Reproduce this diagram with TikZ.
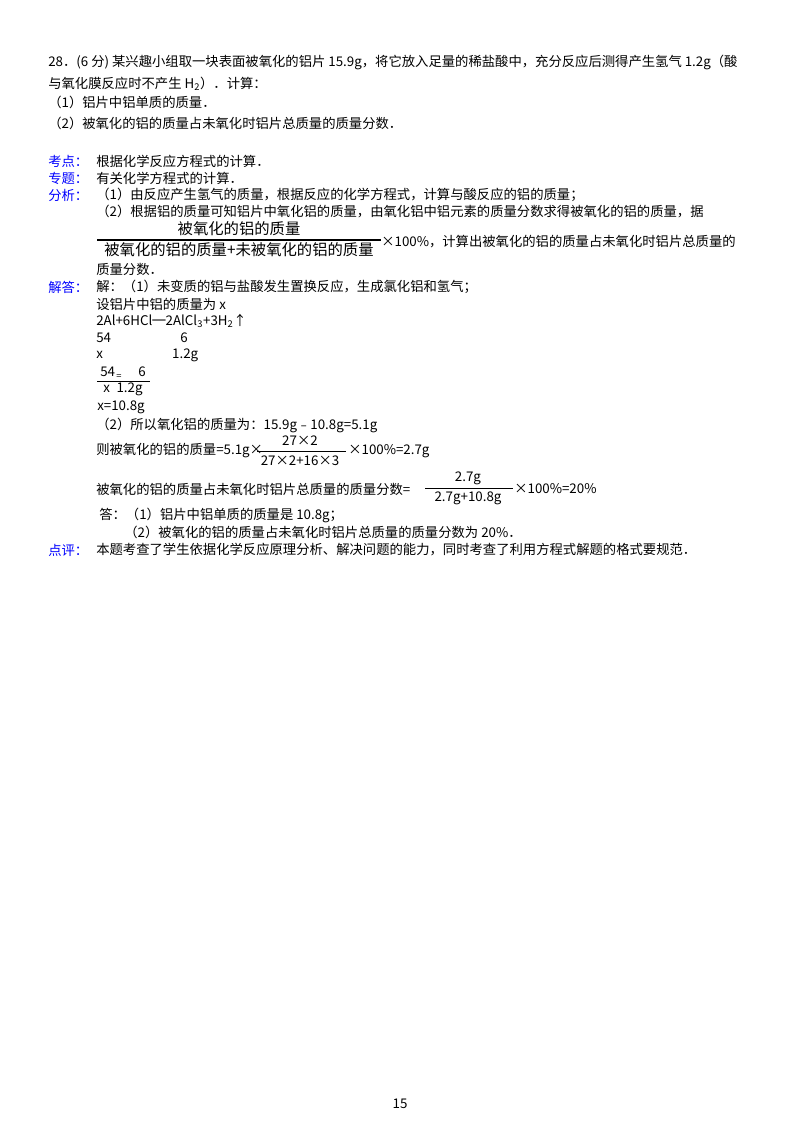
\documentclass[tikz,border=0pt]{standalone}
\usepackage{fontspec}
\setmainfont{Liberation Serif}
\newfontfamily\cjk{Noto Sans CJK SC}
\begin{document}
\begin{tikzpicture}[x=0.75pt,y=-0.75pt,
  t/.style={anchor=west,inner sep=0pt,font=\cjk\fontsize{10}{12}\selectfont},
  lab/.style={t,text=blue},
  fr/.style={inner sep=0pt,font=\cjk\fontsize{10}{12}\selectfont}]
\useasboundingbox (0,0) rectangle (800,1132);
\node[t] (l1) at (48,62) {28．(6 分) 某兴趣小组取一块表面被氧化的铝片 15.9g，将它放入足量的稀盐酸中，充分反应后测得产生氢气 1.2g（酸};
\node[t] (l2) at (48,84) {与氧化膜反应时不产生 H\textsubscript{2}）．计算：};
\node[t] (l3) at (48,102) {（1）铝片中铝单质的质量．};
\node[t] (l4) at (48,123) {（2）被氧化的铝的质量占未氧化时铝片总质量的质量分数．};
\node[lab] (k1) at (48,161) {考点：};
\node[t] (k1t) at (96,161) {根据化学反应方程式的计算．};
\node[lab] (k2) at (48,178) {专题：};
\node[t] (k2t) at (96,178) {有关化学方程式的计算．};
\node[lab] (k3) at (48,195) {分析：};
\node[t] (a1) at (96,195) {（1）由反应产生氢气的质量，根据反应的化学方程式，计算与酸反应的铝的质量；};
\node[t] (a2) at (96,212) {（2）根据铝的质量可知铝片中氧化铝的质量，由氧化铝中铝元素的质量分数求得被氧化的铝的质量，据};
\node[fr] (fn1) at (239,229) {\fontsize{11.5}{13}\selectfont 被氧化的铝的质量};
\node[fr] (fd1) at (239,250) {\fontsize{11.5}{13}\selectfont 被氧化的铝的质量+未被氧化的铝的质量};
\draw[line width=0.8pt] (97,240) -- (381,240);
\node[t] (a3) at (381,242) {×100\%，计算出被氧化的铝的质量占未氧化时铝片总质量的};
\node[t] (a4) at (96,269) {质量分数．};
\node[lab] (k4) at (48,287) {解答：};
\node[t] (s1) at (96,287) {解：（1）未变质的铝与盐酸发生置换反应，生成氯化铝和氢气；};
\node[t] (s2) at (96,304) {设铝片中铝的质量为 x};
\node[t] (s3) at (96,321) {2Al+6HCl═2AlCl\textsubscript{3}+3H\textsubscript{2}↑};
\node[t] (s4) at (96,338) {54\hspace{52pt}6};
\node[t] (s5) at (96,355) {x\hspace{52pt}1.2g};
\node[t] (f2n) at (100,372) {54};
\node[t] (f2m) at (138,372) {6};
\node[t] (f2d) at (103,389) {x\hspace{5pt}1.2g};
\node[t,font=\cjk\fontsize{7}{8}\selectfont] (eq) at (116,377) {=};
\draw (97,381) -- (150,381);
\node[t] (s6) at (97,407) {x=10.8g};
\node[t] (s7) at (96,425) {（2）所以氧化铝的质量为：15.9g﹣10.8g=5.1g};
\node[t] (s8a) at (96,451) {则被氧化的铝的质量=5.1g×};
\node[fr] (f3n) at (300,441) {27×2};
\node[fr] (f3d) at (300,461) {27×2+16×3};
\draw (257,451) -- (346,451);
\node[t] (s8b) at (348,451) {×100\%=2.7g};
\node[t] (s9a) at (96,489) {被氧化的铝的质量占未氧化时铝片总质量的质量分数=};
\node[fr] (f4n) at (468,478) {2.7g};
\node[fr] (f4d) at (468,498) {2.7g+10.8g};
\draw (425,488) -- (513,488);
\node[t] (s9b) at (514,489) {×100\%=20\%};
\node[t] (s10) at (99,515) {答：（1）铝片中铝单质的质量是 10.8g；};
\node[t] (s11) at (124,532) {（2）被氧化的铝的质量占未氧化时铝片总质量的质量分数为 20\%．};
\node[lab] (k5) at (48,550) {点评：};
\node[t] (s12) at (96,550) {本题考查了学生依据化学反应原理分析、解决问题的能力，同时考查了利用方程式解题的格式要规范．};
\node[fr] (pg) at (400,1104) {15};
\end{tikzpicture}
\end{document}
